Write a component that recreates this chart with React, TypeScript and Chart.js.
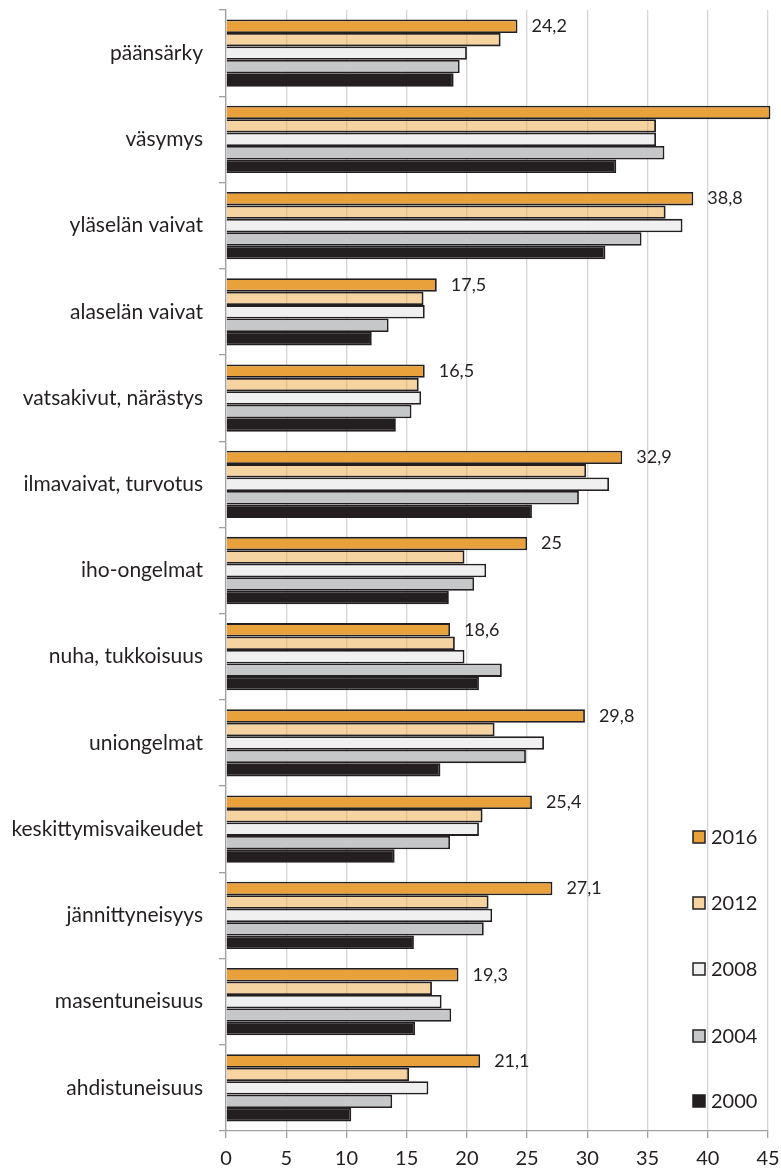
import React, { useEffect, useRef } from "react";
import { Chart, registerables } from "chart.js";

Chart.register(...registerables);

const categories = [
  "päänsärky",
  "väsymys",
  "yläselän vaivat",
  "alaselän vaivat",
  "vatsakivut, närästys",
  "ilmavaivat, turvotus",
  "iho-ongelmat",
  "nuha, tukkoisuus",
  "uniongelmat",
  "keskittymisvaikeudet",
  "jännittyneisyys",
  "masentuneisuus",
  "ahdistuneisuus",
];

const seriesLabels = ["2016", "2012", "2008", "2004", "2000"];

const v2016 = [24.2, 45.2, 38.8, 17.5, 16.5, 32.9, 25, 18.6, 29.8, 25.4, 27.1, 19.3, 21.1];
const v2012 = [22.8, 35.7, 36.5, 16.4, 16.0, 29.9, 19.8, 19.0, 22.3, 21.3, 21.8, 17.1, 15.2];
const v2008 = [20.0, 35.7, 37.9, 16.5, 16.2, 31.8, 21.6, 19.8, 26.4, 21.0, 22.1, 17.9, 16.8];
const v2004 = [19.4, 36.4, 34.5, 13.5, 15.4, 29.3, 20.6, 22.9, 24.9, 18.6, 21.4, 18.7, 13.8];
const v2000 = [18.9, 32.4, 31.5, 12.1, 14.1, 25.4, 18.5, 21.0, 17.8, 14.0, 15.6, 15.7, 10.4];

const xTicks = [0, 5, 10, 15, 20, 25, 30, 35, 40, 45];
const X_MAX = 45;

const colors = ["#E9A23B", "rgba(238,170,70,0.5)", "#F0F0F0", "#C6C7C9", "#231F20"];
const legendColors = ["#E9A23B", "#F5D4A2", "#F0F0F0", "#C6C7C9", "#231F20"];
const border = "#231F20";
const textColor = "#231F20";
const FONT = "Lato, 'Open Sans', sans-serif";

const labelPlugin = {
  id: "valueLabels",
  afterDatasetsDraw(chart: any) {
    const ctx = chart.ctx;
    const meta = chart.getDatasetMeta(0);
    ctx.save();
    ctx.font = `18px ${FONT}`;
    ctx.fillStyle = textColor;
    ctx.textAlign = "left";
    ctx.textBaseline = "middle";
    meta.data.forEach((bar: any, i: number) => {
      const v = v2016[i];
      if (v > X_MAX) return;
      const txt = String(v).replace(".", ",");
      ctx.fillText(txt, bar.x + 14, bar.y);
    });
    ctx.restore();
  },
};

const legendPlugin = {
  id: "sideLegend",
  afterDraw(chart: any) {
    const ctx = chart.ctx;
    const ys = [837, 903, 969, 1036, 1101];
    ctx.save();
    ctx.font = `20px ${FONT}`;
    ctx.textBaseline = "middle";
    ctx.textAlign = "left";
    seriesLabels.forEach((lab, i) => {
      const y = ys[i];
      ctx.fillStyle = legendColors[i];
      ctx.fillRect(693, y - 6, 12, 12);
      ctx.strokeStyle = border;
      ctx.lineWidth = 1.5;
      ctx.strokeRect(693, y - 6, 12, 12);
      ctx.fillStyle = textColor;
      ctx.fillText(lab, 711, y + 1);
    });
    ctx.restore();
  },
};

export default function App() {
  const ref = useRef<HTMLCanvasElement | null>(null);

  useEffect(() => {
    if (!ref.current) return;
    const values = [v2016, v2012, v2008, v2004, v2000];
    const chart = new Chart(ref.current, {
      type: "bar",
      data: {
        labels: categories,
        datasets: seriesLabels.map((lab, i) => ({
          label: lab,
          data: values[i],
          backgroundColor: colors[i],
          borderColor: border,
          borderWidth: 1.8,
          borderSkipped: "start",
          categoryPercentage: 0.78,
          barPercentage: 1.0,
          clip: false as any,
        })),
      },
      options: {
        indexAxis: "y",
        animation: false,
        responsive: false,
        maintainAspectRatio: false,
        layout: { padding: { top: 10, right: 13, left: 0, bottom: 0 } },
        plugins: {
          legend: { display: false },
          tooltip: { enabled: false },
        },
        scales: {
          x: {
            min: 0,
            max: X_MAX,
            afterBuildTicks: (scale: any) => {
              scale.ticks = xTicks.map((v) => ({ value: v }));
            },
            afterFit: (scale: any) => {
              scale.height = 41;
              scale.paddingLeft = 0;
              scale.paddingRight = 0;
            },
            grid: {
              color: "#D4D4D4",
              lineWidth: 1.3,
              drawTicks: true,
              tickLength: 7,
              tickColor: "#A0A0A0",
            },
            border: { color: "#A0A0A0", width: 1.3 },
            ticks: {
              color: textColor,
              font: { family: FONT, size: 20 },
              padding: 9,
              maxRotation: 0,
            },
          },
          y: {
            afterFit: (scale: any) => {
              scale.width = 226;
              scale.paddingTop = 0;
              scale.paddingBottom = 0;
            },
            grid: {
              drawOnChartArea: false,
              drawTicks: true,
              tickLength: 7,
              tickColor: "#A0A0A0",
              lineWidth: 1.3,
            },
            border: { color: "#A0A0A0", width: 1.3 },
            ticks: {
              color: textColor,
              font: { family: FONT, size: 21 },
              padding: 16,
            },
          },
        },
      } as any,
      plugins: [labelPlugin, legendPlugin],
    });
    return () => chart.destroy();
  }, []);

  return (
    <div style={{ position: "fixed", left: 0, top: 0, width: 781, height: 1172, background: "#fff" }}>
      <canvas ref={ref} width={781} height={1172} style={{ display: "block" }} />
    </div>
  );
}
